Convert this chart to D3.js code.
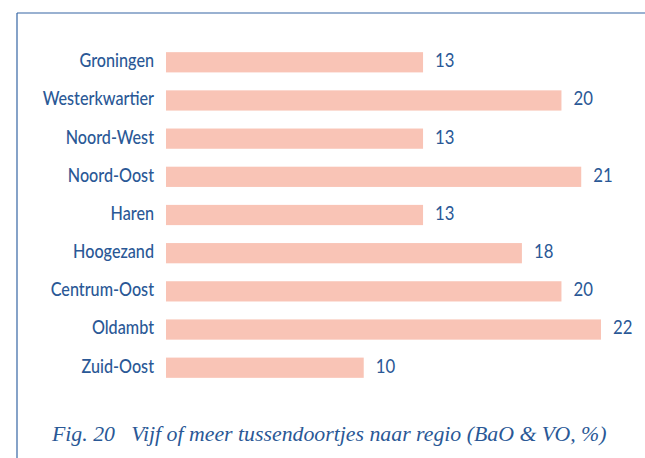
<!DOCTYPE html>
<html>
<head>
<meta charset="utf-8">
<script src="https://cdn.jsdelivr.net/npm/d3@7"></script>
<style>
  body { margin: 0; background: #fff; }
  svg { display: block; }
</style>
</head>
<body>
<svg id="chart"></svg>
<script>
// data
const regions = ["Groningen", "Westerkwartier", "Noord-West", "Noord-Oost", "Haren",
  "Hoogezand", "Centrum-Oost", "Oldambt", "Zuid-Oost"];
const values = [13, 20, 13, 21, 13, 18, 20, 22, 10];
const caption = "Fig. 20\u00a0\u00a0 Vijf of meer tussendoortjes naar regio (BaO & VO, %)";

const W = 645, H = 458;
const blue = "#2a5896";
const labelFont = "Lato, 'Open Sans', sans-serif";

const svg = d3.select("#chart")
    .attr("width", W)
    .attr("height", H);

// frame lines (top + left)
svg.append("line")
    .attr("x1", 17).attr("x2", W).attr("y1", 13).attr("y2", 13)
    .attr("stroke", "#3565a3").attr("stroke-width", 1.2);
svg.append("line")
    .attr("x1", 17).attr("x2", 17).attr("y1", 13).attr("y2", H)
    .attr("stroke", "#3565a3").attr("stroke-width", 1.2);

// scales
const x = d3.scaleLinear()
    .domain([0, 22])
    .range([166, 601]);

const y = d3.scaleBand()
    .domain(regions)
    .range([43, 387])
    .paddingInner(0.47)
    .paddingOuter(0.24);

const rows = regions.map((r, i) => ({ region: r, value: values[i] }));

// bars
svg.append("g").selectAll("rect")
  .data(rows)
  .join("rect")
    .attr("x", x(0))
    .attr("y", d => y(d.region))
    .attr("width", d => x(d.value) - x(0))
    .attr("height", y.bandwidth())
    .attr("fill", "#f9c4b6");

// category labels (condensed look via horizontal scale)
svg.append("g").selectAll("text")
  .data(rows)
  .join("text")
    .attr("transform", d => `translate(154,${y(d.region) + y.bandwidth() / 2}) scale(0.83,1)`)
    .attr("dy", "0.25em")
    .attr("text-anchor", "end")
    .attr("font-family", labelFont)
    .attr("font-size", 19.5)
    .attr("font-weight", 500)
    .attr("fill", blue)
    .text(d => d.region);

// value labels
svg.append("g").selectAll("text")
  .data(rows)
  .join("text")
    .attr("transform", d => `translate(${x(d.value) + 12},${y(d.region) + y.bandwidth() / 2}) scale(0.86,1)`)
    .attr("dy", "0.25em")
    .attr("font-family", labelFont)
    .attr("font-size", 19.5)
    .attr("fill", blue)
    .text(d => d.value);

// caption
svg.append("text")
    .attr("x", 52)
    .attr("y", 441)
    .attr("font-family", "'Liberation Serif', serif")
    .attr("font-style", "italic")
    .attr("font-size", 21.8)
    .attr("fill", blue)
    .text(caption);
</script>
</body>
</html>
